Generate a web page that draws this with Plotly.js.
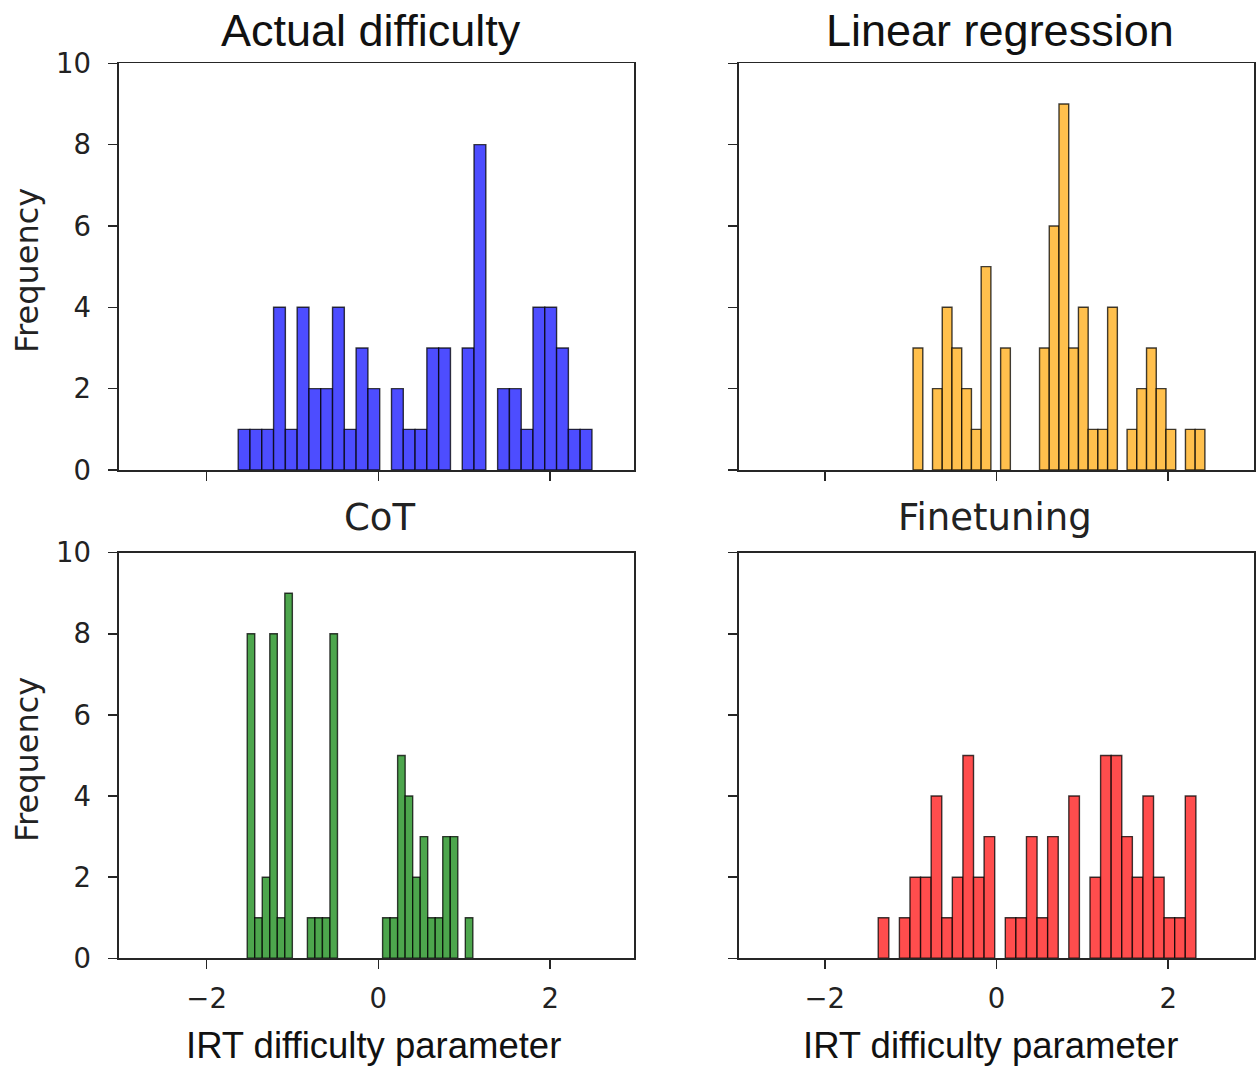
<!DOCTYPE html>
<html>
<head>
<meta charset="utf-8">
<script src="https://cdn.plot.ly/plotly-3.0.1.min.js"></script>
<style>
  html, body { margin: 0; padding: 0; background: #fff; }
  #chart { width: 1258px; height: 1066px; }
</style>
</head>
<body>
<div id="chart"></div>
<script>
// ---- Data (30 bins per histogram) ----
const panelTitles = ["Actual difficulty", "Linear regression", "CoT", "Finetuning"];

const actualRange = [-1.632, 2.487];
const actualCounts = [1,1,1,4,1,4,2,2,4,1,3,2,0,2,1,1,3,3,0,3,8,0,2,2,1,4,4,3,1,1];

const linregRange = [-0.972, 2.428];
const linregCounts = [3,0,2,4,3,2,1,5,0,3,0,0,0,3,6,9,3,4,1,1,4,0,1,2,3,2,1,0,1,1];

const cotRange = [-1.527, 1.100];
const cotCounts = [8,1,2,8,1,9,0,0,1,1,1,8,0,0,0,0,0,0,1,1,5,4,2,3,1,1,3,3,0,1];

const finetuneRange = [-1.378, 2.323];
const finetuneCounts = [1,0,1,2,2,4,1,2,5,2,3,0,1,1,3,1,3,0,4,0,2,5,5,3,2,4,2,1,1,4];

const xTickVals = [-2, 0, 2];
const xTickText = ["\u22122", "0", "2"];
const yTickVals = [0, 2, 4, 6, 8, 10];

const xAxisLabel = "IRT difficulty parameter";
const yAxisLabel = "Frequency";

// ---- Build traces ----
function histTrace(range, counts, color, xa, ya) {
  const n = counts.length;
  const w = (range[1] - range[0]) / n;
  const centers = counts.map((_, i) => range[0] + w * (i + 0.5));
  return {
    type: "bar",
    x: centers,
    y: counts.map(c => (c === 0 ? null : c)),
    width: w,
    xaxis: xa,
    yaxis: ya,
    marker: { color: color, line: { color: "rgba(0,0,0,0.75)", width: 1.4 } },
    showlegend: false,
    hoverinfo: "x+y"
  };
}

const traces = [
  histTrace(actualRange, actualCounts, "#4d4dff", "x", "y"),
  histTrace(linregRange, linregCounts, "#ffc04d", "x2", "y2"),
  histTrace(cotRange, cotCounts, "#4da64d", "x3", "y3"),
  histTrace(finetuneRange, finetuneCounts, "#ff4d4d", "x4", "y4")
];

const W = 1258, H = 1066;
const leftDom = [119 / W, 634.3 / W];
const rightDom = [739 / W, 1254 / W];
const topDom = [1 - 470 / H, 1 - 63.3 / H];
const botDom = [1 - 958.3 / H, 1 - 552.7 / H];

const tickFont = { family: "DejaVu Sans", size: 27.5, color: "#222" };
const lineCol = "#262626";

function xAxis(dom, anchor, showLabels, range) {
  return {
    domain: dom, anchor: anchor, range: range,
    tickmode: "array", tickvals: xTickVals, ticktext: xTickText,
    showticklabels: showLabels,
    ticks: "outside", ticklen: 9, tickwidth: 1.5, tickcolor: lineCol,
    showline: true, linecolor: lineCol, linewidth: 1.6, mirror: true,
    showgrid: false, zeroline: false,
    tickfont: tickFont, ticklabelstandoff: 6
  };
}
function yAxis(dom, anchor, showLabels) {
  return {
    domain: dom, anchor: anchor, range: [0, 10],
    tickmode: "array", tickvals: yTickVals,
    showticklabels: showLabels,
    ticks: "outside", ticklen: 9, tickwidth: 1.5, tickcolor: lineCol,
    showline: true, linecolor: lineCol, linewidth: 1.6, mirror: true,
    showgrid: false, zeroline: false,
    tickfont: tickFont, ticklabelstandoff: 12
  };
}

const bigTitleFont = { family: "Liberation Sans, Arial, sans-serif", size: 45, color: "#111" };
const subTitleFont = { family: "DejaVu Sans", size: 37, color: "#222" };
const labelFontSans = { family: "Liberation Sans, Arial, sans-serif", size: 36.5, color: "#111" };
const labelFontDV = { family: "DejaVu Sans", size: 32, color: "#222" };

function ann(text, x, y, font, angle) {
  return {
    text: text, x: x, y: y, xref: "paper", yref: "paper",
    xanchor: "center", yanchor: "middle", showarrow: false,
    font: font, textangle: angle || 0
  };
}

const layout = {
  width: W, height: H,
  margin: { l: 0, r: 0, t: 0, b: 0 },
  paper_bgcolor: "#fff", plot_bgcolor: "#fff",
  bargap: 0,
  xaxis: xAxis(leftDom, "y", false, [-3.02, 2.98]),
  yaxis: yAxis(topDom, "x", true),
  xaxis2: xAxis(rightDom, "y2", false, [-3.0, 3.0]),
  yaxis2: yAxis(topDom, "x2", false),
  xaxis3: xAxis(leftDom, "y3", true, [-3.02, 2.98]),
  yaxis3: yAxis(botDom, "x3", true),
  xaxis4: xAxis(rightDom, "y4", true, [-3.0, 3.0]),
  yaxis4: yAxis(botDom, "x4", false),
  annotations: [
    ann(panelTitles[0], 371 / W, 1 - 30 / H, bigTitleFont),
    ann(panelTitles[1], 1000 / W, 1 - 30 / H, bigTitleFont),
    ann(panelTitles[2], 379 / W, 1 - 518 / H, subTitleFont),
    ann(panelTitles[3], 995 / W, 1 - 518 / H, subTitleFont),
    ann(yAxisLabel, 27 / W, 1 - 271 / H, labelFontDV, -90),
    ann(yAxisLabel, 27 / W, 1 - 760 / H, labelFontDV, -90),
    ann(xAxisLabel, 373 / W, 1 - 1045 / H, labelFontSans),
    ann(xAxisLabel, 990 / W, 1 - 1045 / H, labelFontSans)
  ]
};

Plotly.newPlot("chart", traces, layout, { staticPlot: true, displayModeBar: false });
</script>
</body>
</html>
